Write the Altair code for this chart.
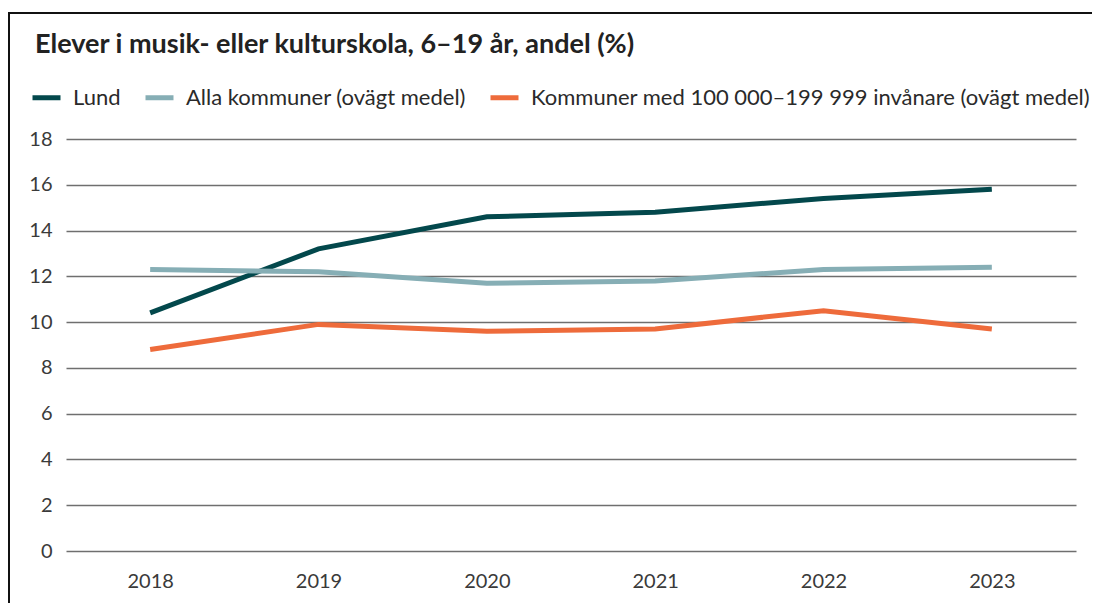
import altair as alt
import pandas as pd

years = ["2018", "2019", "2020", "2021", "2022", "2023"]
series_names = [
    "Lund",
    "Alla kommuner (ovägt medel)",
    "Kommuner med 100 000–199 999 invånare (ovägt medel)",
]
lund = [10.4, 13.2, 14.6, 14.8, 15.4, 15.8]
alla = [12.3, 12.2, 11.7, 11.8, 12.3, 12.4]
kommuner = [8.8, 9.9, 9.6, 9.7, 10.5, 9.7]
colors = ["#03484c", "#86aeb5", "#ee6b3b"]
y_ticks = [0, 2, 4, 6, 8, 10, 12, 14, 16, 18]
title_text = "Elever i musik- eller kulturskola, 6–19 år, andel (%)"

rows = []
for name, vals in zip(series_names, [lund, alla, kommuner]):
    for yr, v in zip(years, vals):
        rows.append({"År": yr, "Serie": name, "Andel": v})
df = pd.DataFrame(rows)

FONT = "Lato"

lines = alt.Chart(df).mark_line(strokeWidth=5, strokeCap="butt").encode(
    x=alt.X("År:O", sort=years,
            scale=alt.Scale(paddingOuter=0.5),
            axis=alt.Axis(title=None, labelAngle=0, ticks=False, domain=False,
                          labelPadding=20, labelFontSize=20, labelColor="#3a3a3a",
                          labelFont=FONT, grid=False)),
    y=alt.Y("Andel:Q", scale=alt.Scale(domain=[0, 18], nice=False),
            axis=alt.Axis(title=None, values=y_ticks, ticks=False, domain=False,
                          labelPadding=14, labelFontSize=20, labelColor="#3a3a3a",
                          labelFont=FONT, grid=True, gridColor="#6f6f6f",
                          gridWidth=1.5)),
    color=alt.Color("Serie:N", sort=series_names,
                    scale=alt.Scale(domain=series_names, range=colors),
                    legend=alt.Legend(title=None, orient="none", direction="horizontal",
                                      legendX=-36, legendY=-58,
                                      symbolType="stroke", symbolSize=784,
                                      symbolStrokeWidth=5, labelFontSize=22,
                                      labelFont=FONT, labelColor="#2a2a2a",
                                      labelOffset=10, columnPadding=14,
                                      labelLimit=800)),
    order=alt.Order("År:O"),
)

frame_top = alt.Chart(alt.Data(values=[{}])).mark_rule(
    stroke="#111111", strokeWidth=2, clip=False
).encode(x=alt.value(-58), x2=alt.value(1030), y=alt.value(-126))

frame_left = alt.Chart(alt.Data(values=[{}])).mark_rule(
    stroke="#111111", strokeWidth=2, clip=False
).encode(x=alt.value(-57), y=alt.value(-127), y2=alt.value(470))

chart = alt.layer(frame_top, frame_left, lines).properties(
    width=1010,
    height=412,
    title=alt.TitleParams(title_text, anchor="start", frame="group", dx=-31,
                          fontSize=27, font=FONT, fontWeight="bold", color="#222222",
                          offset=0, baseline="alphabetic", dy=69),
    autosize=alt.AutoSizeParams(type="none"),
    padding={"left": 58, "top": 131, "right": 16, "bottom": 52},
).configure_view(stroke=None)

chart.save("out.html", embed_options={"renderer": "svg", "actions": False})
